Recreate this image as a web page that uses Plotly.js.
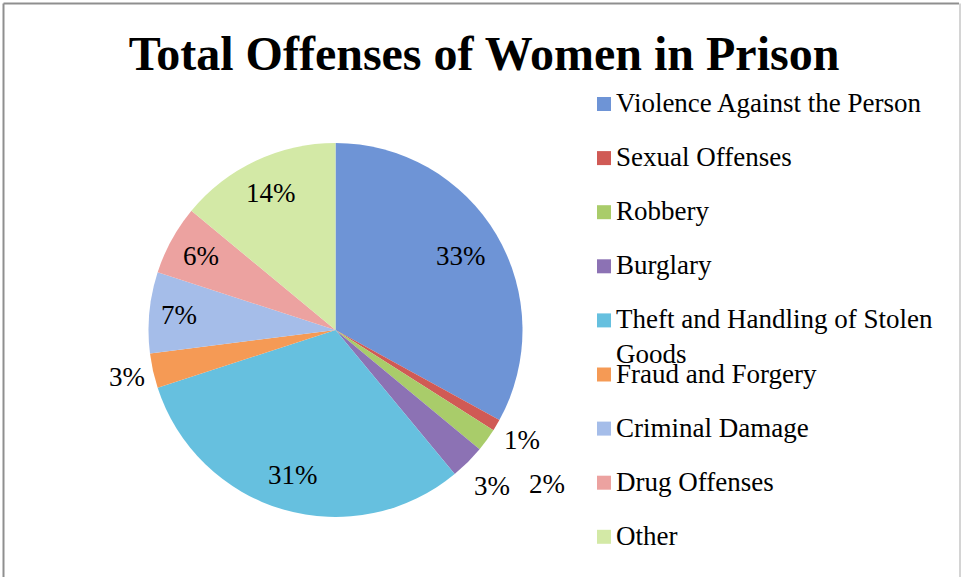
<!DOCTYPE html>
<html>
<head>
<meta charset="utf-8">
<script src="https://cdn.plot.ly/plotly-3.0.1.min.js"></script>
<style>html,body{margin:0;padding:0;background:#fff;}#chart{width:963px;height:577px;}</style>
</head>
<body>
<div id="chart"></div>
<script>
// ---- data ----
const labels = ["Violence Against the Person", "Sexual Offenses", "Robbery", "Burglary",
  "Theft and Handling of Stolen Goods", "Fraud and Forgery", "Criminal Damage", "Drug Offenses", "Other"];
const legendText = ["Violence Against the Person", "Sexual Offenses", "Robbery", "Burglary",
  "Theft and Handling of Stolen<br>Goods", "Fraud and Forgery", "Criminal Damage", "Drug Offenses", "Other"];
const values = [33, 1, 2, 3, 31, 3, 7, 6, 14];
const colors = ["#6e94d6", "#d05a55", "#a9cc6a", "#8c72b4", "#66c0df", "#f59a55", "#a5bde9", "#eca2a0", "#d3e9a6"];
// label distance from centre, as a fraction of the radius (style)
const labelRadius = [0.78, 1.16, 1.40, 1.18, 0.81, 1.14, 0.84, 0.82, 0.81];

const W = 963, H = 577;
const cx = 335.5, cy = 330, R = 187;
const FONT = "Liberation Serif, Times New Roman, serif";

const total = values.reduce((a, b) => a + b, 0);
const annotations = [];
const shapes = [];

// percentage labels placed at each slice's mid-angle (clockwise from 12 o'clock)
let cum = 0;
values.forEach((v, i) => {
  const mid = (cum + v / 2) / total;
  cum += v;
  const th = 2 * Math.PI * mid;
  const px = cx + labelRadius[i] * R * Math.sin(th);
  const py = cy - labelRadius[i] * R * Math.cos(th);
  annotations.push({
    xref: "paper", yref: "paper", x: px / W, y: 1 - py / H,
    xanchor: "center", yanchor: "middle", showarrow: false,
    text: Math.round(v / total * 100) + "%",
    font: {family: FONT, size: 27, color: "#000"}
  });
});

// legend (manual, to match spacing)
const legX = 597, legSq = 14, legTop = 112, legStep = 54.1;
labels.forEach((l, i) => {
  const base = legTop + i * legStep;
  shapes.push({type: "rect", xref: "paper", yref: "paper",
    x0: legX / W, x1: (legX + legSq) / W,
    y0: 1 - (base - 1) / H, y1: 1 - (base - 1 - legSq) / H,
    fillcolor: colors[i], line: {width: 0}});
  annotations.push({
    xref: "paper", yref: "paper", x: 614 / W, y: 1 - (base - 26) / H,
    xanchor: "left", yanchor: "top", align: "left", showarrow: false,
    text: legendText[i],
    font: {family: FONT, size: 27, color: "#000"}
  });
});

// frame
shapes.push({type: "line", xref: "paper", yref: "paper", x0: 3.5 / W, x1: 959 / W, y0: 1 - 3.5 / H, y1: 1 - 3.5 / H, line: {color: "#8f8f8f", width: 2}});
shapes.push({type: "line", xref: "paper", yref: "paper", x0: 3.5 / W, x1: 3.5 / W, y0: 1 - 3.5 / H, y1: -0.05, line: {color: "#8f8f8f", width: 2}});
shapes.push({type: "line", xref: "paper", yref: "paper", x0: 960 / W, x1: 960 / W, y0: 1 - 3.5 / H, y1: -0.05, line: {color: "#d4d4d4", width: 2}});

const data = [{
  type: "pie",
  labels: labels,
  values: values,
  sort: false,
  direction: "clockwise",
  rotation: 0,
  marker: {colors: colors, line: {width: 0}},
  textinfo: "none",
  hoverinfo: "label+percent",
  showlegend: false,
  domain: {x: [(cx - R) / W, (cx + R) / W], y: [(H - cy - R) / H, (H - cy + R) / H]}
}];

const layout = {
  width: W, height: H,
  margin: {l: 0, r: 0, t: 0, b: 0},
  paper_bgcolor: "#fff",
  showlegend: false,
  title: {
    text: "<b>Total Offenses of Women in Prison</b>",
    font: {family: FONT, size: 48, color: "#000"},
    x: 484 / W, xanchor: "center", y: 1 - 53 / H, yanchor: "middle", yref: "container", xref: "paper"
  },
  annotations: annotations,
  shapes: shapes
};

Plotly.newPlot("chart", data, layout, {displayModeBar: false, staticPlot: true});
</script>
</body>
</html>
